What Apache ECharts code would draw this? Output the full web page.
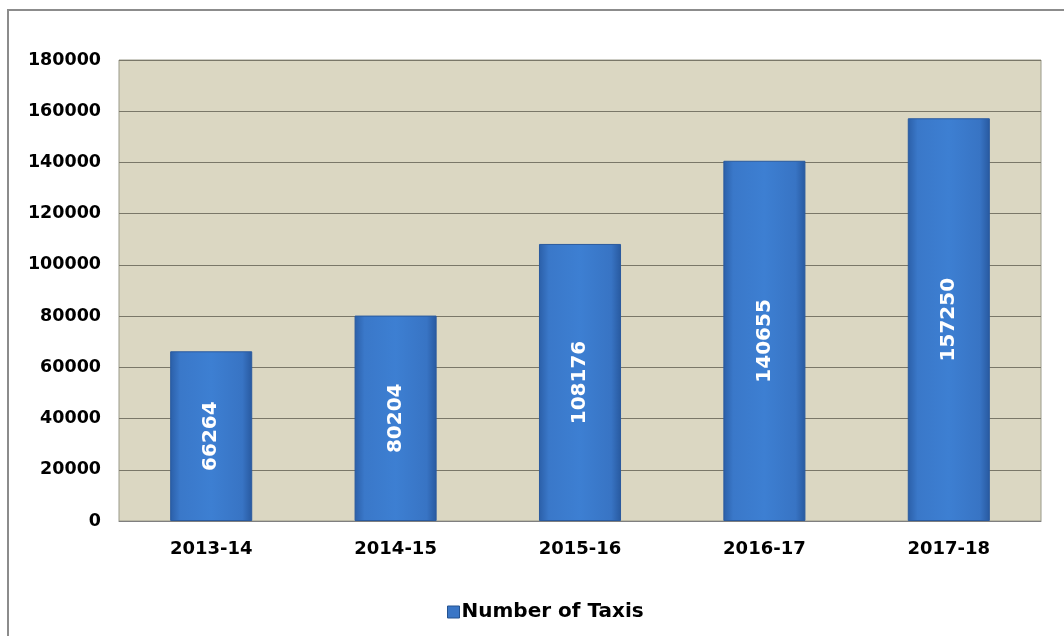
<!DOCTYPE html>
<html>
<head>
<meta charset="utf-8">
<script src="https://cdn.jsdelivr.net/npm/echarts@6/dist/echarts.min.js"></script>
<style>
  html, body { margin: 0; padding: 0; background: #ffffff; }
  #frame { position: absolute; left: 7px; top: 9px; width: 1070px; height: 640px;
           border: 2px solid #8c8c8c; box-sizing: border-box; background: #fff; }
  #chart { position: absolute; left: 0; top: 0; width: 1064px; height: 636px; }
</style>
</head>
<body>
<div id="frame"></div>
<div id="chart"></div>
<script>
// Taxi registrations by financial year
const years = ['2013-14', '2014-15', '2015-16', '2016-17', '2017-18'];
const taxis = [66264, 80204, 108176, 140655, 157250];
const seriesName = 'Number of Taxis';

const chart = echarts.init(document.getElementById('chart'), null, { renderer: 'canvas' });

const barFill = new echarts.graphic.LinearGradient(0, 0, 1, 0, [
  { offset: 0, color: '#2b5fa8' },
  { offset: 0.12, color: '#3a78c9' },
  { offset: 0.5, color: '#3d7fd2' },
  { offset: 0.88, color: '#3874c4' },
  { offset: 1, color: '#28599f' }
]);

chart.setOption({
  animation: false,
  textStyle: { fontFamily: 'DejaVu Sans' },
  grid: {
    left: 119, right: 23, top: 60, bottom: 115,
    show: true, backgroundColor: '#dbd7c2', borderColor: '#9a9a8a', borderWidth: 1
  },
  legend: {
    top: 597, left: 442,
    itemWidth: 12, itemHeight: 12, itemGap: 5,
    icon: 'rect',
    textStyle: { fontSize: 20, fontWeight: 'bold', color: '#000', fontFamily: 'DejaVu Sans', padding: [0, 0, 0, -3] },
    data: [{ name: seriesName, itemStyle: { color: '#3a76c6', borderColor: '#24528f', borderWidth: 1 } }]
  },
  xAxis: {
    type: 'category',
    data: years,
    axisLine: { lineStyle: { color: '#7f7f7f' } },
    axisTick: { show: false },
    axisLabel: { fontSize: 18, fontWeight: 'bold', color: '#000', margin: 19 }
  },
  yAxis: {
    type: 'value',
    min: 0, max: 180000, interval: 20000,
    axisLine: { show: false },
    axisTick: { show: false },
    axisLabel: { fontSize: 17.5, fontWeight: 'bold', color: '#000', margin: 18,
                 formatter: v => String(v) },
    splitLine: { lineStyle: { color: '#7a7768', width: 1 } }
  },
  series: [{
    name: seriesName,
    type: 'bar',
    data: taxis,
    barWidth: '44.5%',
    itemStyle: { color: barFill, borderColor: '#2a5a9e', borderWidth: 1 },
    label: {
      show: true, position: 'inside', rotate: 90,
      color: '#ffffff', fontSize: 20, fontWeight: 'bold', fontFamily: 'DejaVu Sans'
    }
  }]
});
</script>
</body>
</html>
